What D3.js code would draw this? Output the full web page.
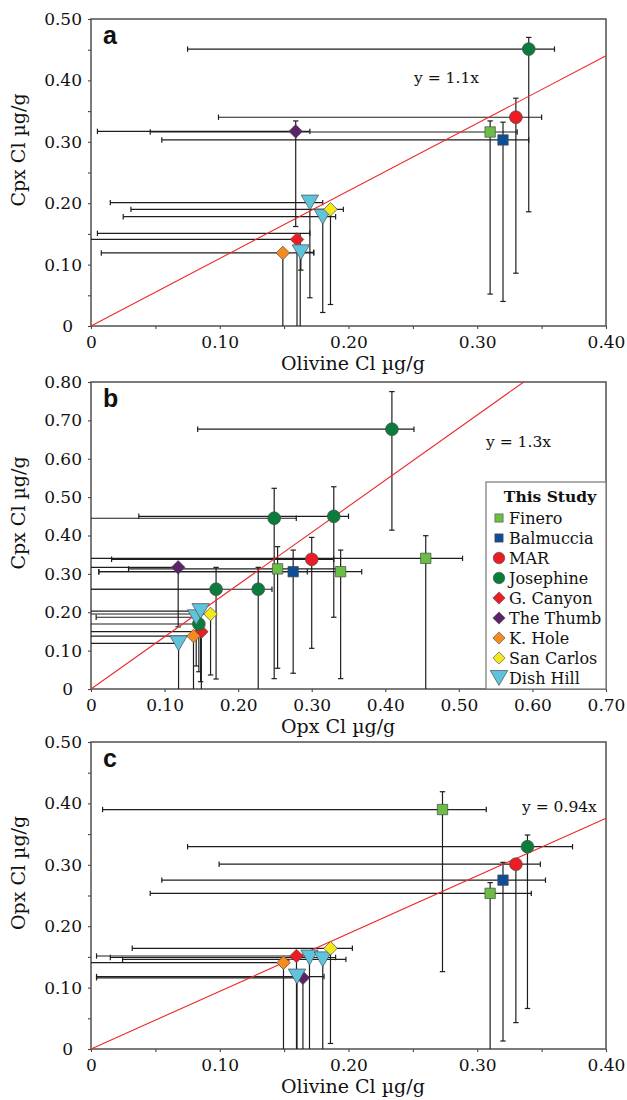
<!DOCTYPE html>
<html><head><meta charset="utf-8">
<script src="https://cdn.jsdelivr.net/npm/d3@7"></script>
<style>body{margin:0;background:#fff} svg{display:block}</style>
</head><body><svg id="c" width="627" height="1100"></svg>
<script>
// ---------- DATA ----------
const seriesNames  = ["Finero","Balmuccia","MAR","Josephine","G. Canyon","The Thumb","K. Hole","San Carlos","Dish Hill"];
const seriesColors = ["#6cbd45","#0d4f96","#ec1c24","#0a7d3c","#ec1c24","#5b2468","#f58a1f","#f4e81c","#5fc4db"];
const seriesShapes = ["square","square","circle","circle","diamond","diamond","diamond","diamond","triangle"];
const legendTitle = "This Study";

// rows: [series, x, y, xLow, xHigh, yLow, yHigh]  (negative low = error runs past the axis)
const pointsA = [
  ["Josephine",0.340,0.451,0.075,0.360,0.186,0.470],
  ["MAR",0.330,0.340,0.099,0.350,0.086,0.371],
  ["Finero",0.310,0.316,0.046,0.331,0.052,0.334],
  ["Balmuccia",0.320,0.303,0.055,0.340,0.040,0.332],
  ["The Thumb",0.159,0.317,0.005,0.170,0.162,0.334],
  [null,0.1625,0.151,0.005,0.170,-0.05,0.151],
  ["G. Canyon",0.160,0.141,-0.05,0.160,-0.05,0.141],
  ["K. Hole",0.149,0.119,0.008,0.173,-0.05,0.119],
  ["Dish Hill",0.163,0.120,0.163,0.173,0.091,0.120],
  ["Dish Hill",0.170,0.201,0.015,0.180,0.046,0.201],
  ["Dish Hill",0.180,0.178,0.025,0.190,0.022,0.178],
  ["San Carlos",0.186,0.190,0.031,0.196,0.035,0.190]
];
const pointsB = [
  ["Josephine",0.409,0.677,0.145,0.439,0.414,0.775],
  ["Josephine",0.249,0.445,-0.05,0.279,0.027,0.523],
  ["Josephine",0.330,0.450,0.065,0.350,0.187,0.527],
  ["Finero",0.455,0.3405,-0.05,0.505,-0.05,0.3995],
  ["MAR",0.300,0.338,0.028,0.330,0.106,0.395],
  ["The Thumb",0.1185,0.317,-0.05,0.1185,0.162,0.317],
  ["Finero",0.2536,0.313,0.051,0.335,0.054,0.371],
  ["Balmuccia",0.2748,0.3057,0.0106,0.294,0.041,0.362],
  ["Finero",0.3393,0.3057,0.0106,0.368,0.027,0.362],
  ["Josephine",0.170,0.260,-0.05,0.170,0.026,0.317],
  ["Josephine",0.2273,0.260,-0.05,0.246,-0.05,0.317],
  ["Dish Hill",0.119,0.119,-0.05,0.119,-0.05,0.119],
  ["G. Canyon",0.150,0.1494,-0.05,0.150,-0.05,0.1494],
  ["K. Hole",0.1393,0.138,-0.05,0.1393,-0.05,0.138],
  ["Josephine",0.1466,0.1694,-0.05,0.1466,0.045,0.1694],
  ["Dish Hill",0.143,0.187,0.007,0.143,0.06,0.187],
  ["Dish Hill",0.149,0.203,-0.05,0.149,0.019,0.203],
  ["San Carlos",0.1625,0.1954,-0.05,0.1625,0.0365,0.1954]
];
const pointsC = [
  ["Finero",0.273,0.390,0.009,0.307,0.126,0.419],
  ["Josephine",0.339,0.3295,0.075,0.374,0.066,0.3485],
  ["MAR",0.330,0.301,0.0995,0.349,0.043,0.301],
  ["Balmuccia",0.320,0.275,0.055,0.353,0.013,0.304],
  ["Finero",0.310,0.2535,0.046,0.342,-0.05,0.271],
  ["The Thumb",0.1646,0.116,0.0043,0.1646,-0.05,0.116],
  ["Dish Hill",0.160,0.118,0.0043,0.181,-0.05,0.118],
  ["G. Canyon",0.1596,0.1515,0.0043,0.170,-0.05,0.1515],
  ["K. Hole",0.1495,0.1406,-0.05,0.1495,-0.05,0.1406],
  ["Dish Hill",0.1697,0.149,0.015,0.190,-0.05,0.149],
  ["Dish Hill",0.180,0.146,0.0245,0.198,-0.05,0.146],
  ["San Carlos",0.186,0.164,0.032,0.203,0.009,0.164]
];

const fitSlopes = [1.1, 1.36, 0.94];
const fitLabels = ["y = 1.1x", "y = 1.3x", "y = 0.94x"];
const panelLetters = ["a","b","c"];
const xTitles = ["Olivine Cl µg/g","Opx Cl µg/g","Olivine Cl µg/g"];
const yTitles = ["Cpx Cl µg/g","Cpx Cl µg/g","Opx Cl µg/g"];

const xTicksA = [0,0.1,0.2,0.3,0.4], xTickLabelsA = ["0","0.10","0.20","0.30","0.40"];
const yTicksA = [0,0.1,0.2,0.3,0.4,0.5], yTickLabelsA = ["0","0.10","0.20","0.30","0.40","0.50"];
const xTicksB = [0,0.1,0.2,0.3,0.4,0.5,0.6,0.7], xTickLabelsB = ["0","0.10","0.20","0.30","0.40","0.50","0.60","0.70"];
const yTicksB = [0,0.1,0.2,0.3,0.4,0.5,0.6,0.7,0.8], yTickLabelsB = ["0","0.10","0.20","0.30","0.40","0.50","0.60","0.70","0.80"];
const minorTicks04 = [0.05,0.15,0.25,0.35];
const minorTicks05 = [0.05,0.15,0.25,0.35,0.45];

// ---------- LAYOUT ----------
const svg = d3.select("#c");
const SERIF = "'DejaVu Serif', serif";
const L = 91, R = 606;
const panels = [
  {top:19,  bottom:326,  xMax:0.4, yMax:0.5, pts:pointsA, xt:xTicksA, xl:xTickLabelsA, yt:yTicksA, yl:yTickLabelsA, xm:minorTicks04, ym:minorTicks05, eq:[414,83]},
  {top:382, bottom:689,  xMax:0.7, yMax:0.8, pts:pointsB, xt:xTicksB, xl:xTickLabelsB, yt:yTicksB, yl:yTickLabelsB, xm:[], ym:[], eq:[486,447], legend:true},
  {top:742, bottom:1049, xMax:0.4, yMax:0.5, pts:pointsC, xt:xTicksA, xl:xTickLabelsA, yt:yTicksA, yl:yTickLabelsA, xm:minorTicks04, ym:minorTicks05, eq:[522,812]}
];

function symbolPath(shape){
  switch(shape){
    case "square": return "M-5.2,-5.2H5.2V5.2H-5.2Z";
    case "circle": return d3.symbol(d3.symbolCircle, Math.PI*6.4*6.4)();
    case "diamond": return "M0,-6.8L6.8,0L0,6.8L-6.8,0Z";
    case "triangle": return "M-8.7,-7.5L8.7,-7.5L0,7.5Z";
  }
}
function drawMarker(g, name, cx, cy, scale){
  const i = seriesNames.indexOf(name);
  g.append("path").attr("d", symbolPath(seriesShapes[i]))
    .attr("transform", `translate(${cx},${cy}) scale(${scale||1})`)
    .attr("fill", seriesColors[i]).attr("stroke", "#4a4a4a").attr("stroke-width", 0.7);
}

panels.forEach((p, k) => {
  const x = d3.scaleLinear().domain([0, p.xMax]).range([L, R]);
  const y = d3.scaleLinear().domain([0, p.yMax]).range([p.bottom, p.top]);
  const g = svg.append("g");

  const cid = "clip" + k;
  svg.append("clipPath").attr("id", cid).append("rect")
    .attr("x", L).attr("y", p.top).attr("width", R - L).attr("height", p.bottom - p.top);

  const styleAxis = sel => { sel.select(".domain").remove(); sel.selectAll("line").attr("stroke", "#444").attr("stroke-width", 1.1); };
  const xAx = g.append("g").attr("transform", `translate(0,${p.bottom})`)
    .call(d3.axisBottom(x).tickValues(p.xt).tickSize(3).tickSizeOuter(0).tickPadding(7)
      .tickFormat((d, i) => p.xl[i]));
  xAx.call(styleAxis);
  xAx.selectAll("text").attr("font-family", SERIF).attr("font-size", 17).attr("fill", "#111");
  g.append("g").attr("transform", `translate(0,${p.bottom})`)
    .call(d3.axisBottom(x).tickValues(p.xm).tickSize(3).tickFormat("")).call(styleAxis);

  const yAx = g.append("g").attr("transform", `translate(${L},0)`)
    .call(d3.axisLeft(y).tickValues(p.yt).tickSize(3).tickSizeOuter(0).tickPadding(6)
      .tickFormat((d, i) => p.yl[i]));
  yAx.call(styleAxis);
  yAx.selectAll("text").attr("font-family", SERIF).attr("font-size", 17).attr("fill", "#111")
    .attr("dx", (d, i) => p.yl[i] === "0" ? -9 : 0);
  g.append("g").attr("transform", `translate(${L},0)`)
    .call(d3.axisLeft(y).tickValues(p.ym).tickSize(3).tickFormat("")).call(styleAxis);

  g.append("rect").attr("x", L).attr("y", p.top).attr("width", R - L).attr("height", p.bottom - p.top)
    .attr("fill", "none").attr("stroke", "#505050").attr("stroke-width", 1.5);

  const eb = g.append("g").attr("clip-path", `url(#${cid})`).attr("stroke", "#1e1e1e").attr("stroke-width", 1.2);
  const cap = 2.7;
  p.pts.forEach(d => {
    const [s, vx, vy, xlo, xhi, ylo, yhi] = d;
    const cx = x(vx), cy = y(vy);
    if (xhi > xlo) eb.append("line").attr("x1", x(xlo)).attr("x2", x(xhi)).attr("y1", cy).attr("y2", cy);
    if (yhi > ylo) eb.append("line").attr("x1", cx).attr("x2", cx).attr("y1", y(ylo)).attr("y2", y(yhi));
    if (xlo >= 0 && xlo < vx) eb.append("line").attr("x1", x(xlo)).attr("x2", x(xlo)).attr("y1", cy - cap).attr("y2", cy + cap);
    if (xhi > vx) eb.append("line").attr("x1", x(xhi)).attr("x2", x(xhi)).attr("y1", cy - cap).attr("y2", cy + cap);
    if (ylo >= 0 && ylo < vy) eb.append("line").attr("x1", cx - cap).attr("x2", cx + cap).attr("y1", y(ylo)).attr("y2", y(ylo));
    if (yhi > vy) eb.append("line").attr("x1", cx - cap).attr("x2", cx + cap).attr("y1", y(yhi)).attr("y2", y(yhi));
  });

  const s = fitSlopes[k];
  const xEnd = Math.min(p.xMax, p.yMax / s);
  g.append("line").attr("x1", x(0)).attr("y1", y(0)).attr("x2", x(xEnd)).attr("y2", y(s * xEnd))
    .attr("stroke", "#ee2a2a").attr("stroke-width", 1.1);

  p.pts.forEach(d => { if (d[0]) drawMarker(g, d[0], x(d[1]), y(d[2])); });

  g.append("text").attr("x", p.eq[0]).attr("y", p.eq[1]).text(fitLabels[k])
    .attr("font-family", SERIF).attr("font-size", 15.5).attr("fill", "#111");
  g.append("text").attr("x", 103).attr("y", p.top + 24.5).text(panelLetters[k])
    .attr("font-family", "'Liberation Sans', Arial, sans-serif").attr("font-weight", "bold")
    .attr("font-size", 25).attr("fill", "#111");
  g.append("text").attr("x", 281).attr("y", p.bottom + 44).text(xTitles[k])
    .attr("font-family", SERIF).attr("font-size", 19).attr("fill", "#111");
  g.append("text").attr("transform", `translate(24.5,${p.top + 131}) rotate(-90)`)
    .attr("text-anchor", "middle").text(yTitles[k])
    .attr("font-family", SERIF).attr("font-size", 19).attr("fill", "#111");

  if (p.legend) {
    const lg = g.append("g");
    lg.append("rect").attr("x", 486).attr("y", 482).attr("width", R - 486).attr("height", p.bottom - 482)
      .attr("fill", "#fff").attr("stroke", "#777").attr("stroke-width", 1.2);
    lg.append("text").attr("x", 550).attr("y", 502).attr("text-anchor", "middle").text(legendTitle)
      .attr("font-family", SERIF).attr("font-weight", "bold").attr("font-size", 15.5).attr("fill", "#111");
    seriesNames.forEach((n, i) => {
      const cy = 518 + i * 20;
      const sc = seriesShapes[i] === "square" ? 0.8 : (seriesShapes[i] === "triangle" ? 1 : 0.9);
      drawMarker(lg, n, 499, cy, sc);
      lg.append("text").attr("x", 509).attr("y", cy + 5.5).text(n)
        .attr("font-family", SERIF).attr("font-size", 16).attr("fill", "#111");
    });
  }
});
</script></body></html>
